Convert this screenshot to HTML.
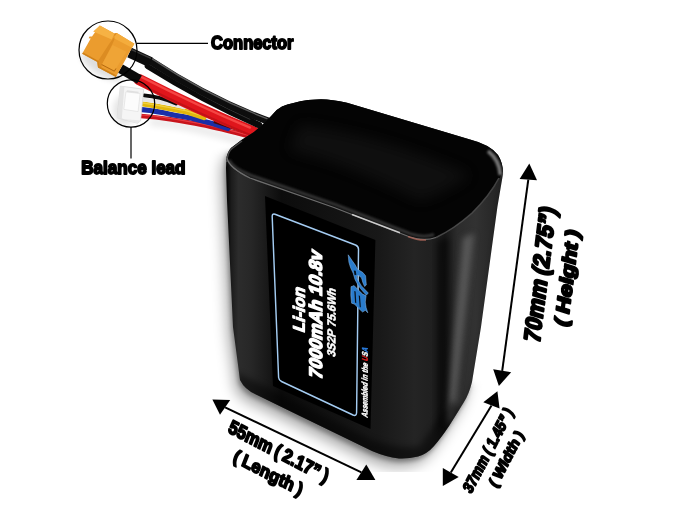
<!DOCTYPE html>
<html><head><meta charset="utf-8"><title>Battery</title>
<style>
html,body{margin:0;padding:0;background:#fff;}
body{width:686px;height:511px;overflow:hidden;}
svg{display:block;font-family:"Liberation Sans",sans-serif;font-weight:bold;opacity:0.999;}
</style></head><body>
<svg width="686" height="511" viewBox="0 0 686 511">
<defs>
<filter id="b6" x="-30%" y="-30%" width="160%" height="160%"><feGaussianBlur stdDeviation="7"/></filter>
<filter id="b3" x="-30%" y="-30%" width="160%" height="160%"><feGaussianBlur stdDeviation="3"/></filter>
<filter id="b2" x="-30%" y="-30%" width="160%" height="160%"><feGaussianBlur stdDeviation="2.2"/></filter>
<filter id="b1" x="-30%" y="-30%" width="160%" height="160%"><feGaussianBlur stdDeviation="1.2"/></filter>
<filter id="b05" x="-10%" y="-10%" width="120%" height="120%"><feGaussianBlur stdDeviation="0.5"/></filter>
<clipPath id="photo"><rect x="0" y="0" width="686" height="472"/></clipPath>
<mask id="shm" maskUnits="userSpaceOnUse" x="0" y="0" width="686" height="511"><path d="M-30,150 L262,150 L262,384 L720,384 L720,540 L-30,540 Z" fill="#fff" filter="url(#b3)"/></mask>
<linearGradient id="side" gradientUnits="userSpaceOnUse" x1="440" y1="300" x2="495" y2="308">
 <stop offset="0" stop-color="#0d0d0d"/><stop offset="0.25" stop-color="#262626"/><stop offset="0.5" stop-color="#3a3a3a"/><stop offset="0.8" stop-color="#222"/><stop offset="1" stop-color="#111"/>
</linearGradient>
<linearGradient id="front" gradientUnits="userSpaceOnUse" x1="226" y1="300" x2="503" y2="300">
 <stop offset="0" stop-color="#020202"/><stop offset="0.02" stop-color="#1c1c1c"/><stop offset="0.045" stop-color="#2c2c2c"/><stop offset="0.09" stop-color="#272727"/><stop offset="0.14" stop-color="#1b1b1b"/><stop offset="0.2" stop-color="#0c0c0c"/>
 <stop offset="0.55" stop-color="#181818"/><stop offset="0.68" stop-color="#242424"/><stop offset="0.76" stop-color="#1f1f1f"/><stop offset="0.79" stop-color="#171717"/><stop offset="0.835" stop-color="#2c2c2c"/><stop offset="0.9" stop-color="#323232"/><stop offset="1" stop-color="#222"/>
</linearGradient>
<linearGradient id="redw" x1="0" y1="0" x2="0" y2="1"><stop offset="0" stop-color="#ff3a3a"/><stop offset="1" stop-color="#c40d12"/></linearGradient>
</defs>
<rect width="686" height="511" fill="#fff"/>

<g clip-path="url(#photo)"><g mask="url(#shm)">
<path d="M226,168 L226.5,157 Q228,151 231,148 L241.5,140 L254,132 L266,121.5 L273,114 Q277,109 282,106.5 Q292,102.5 308,100 L321,99.3 Q332,99.5 347,102.7 L470,139.5 Q490,144.5 498,155 Q503,163 503,174 L497.4,207 L481,327 L472,382 Q469,394 464,402 L449,426 Q441,438 434,446 Q427,454 418,456.5 Q408,459 399,458.5 Q386,457 372,451 L300,416 L257,395 Q245,390 240,380 L233,327 L227,200 Z" fill="#000" opacity="0.34" filter="url(#b6)" transform="translate(-5,9)"/>
<path d="M226,168 L226.5,157 Q228,151 231,148 L241.5,140 L254,132 L266,121.5 L273,114 Q277,109 282,106.5 Q292,102.5 308,100 L321,99.3 Q332,99.5 347,102.7 L470,139.5 Q490,144.5 498,155 Q503,163 503,174 L497.4,207 L481,327 L472,382 Q469,394 464,402 L449,426 Q441,438 434,446 Q427,454 418,456.5 Q408,459 399,458.5 Q386,457 372,451 L300,416 L257,395 Q245,390 240,380 L233,327 L227,200 Z" fill="#000" opacity="0.30" filter="url(#b2)" transform="translate(-1.5,3.5)"/>
</g></g>
<ellipse cx="102" cy="66" rx="24" ry="9" transform="rotate(32 102 66)" fill="#000" opacity="0.13" filter="url(#b3)"/>
<ellipse cx="125" cy="110" rx="12" ry="15" fill="#000" opacity="0.10" filter="url(#b3)"/>
<path d="M150,122 C180,124 215,132 255,146" fill="none" stroke="#000" stroke-width="8" opacity="0.08" filter="url(#b3)"/>
<path d="M141,116 C155,117 165,118.5 170,119.3 S190,122.5 201.3,124.7 S235,132.5 252,137" fill="none" stroke="#c8141c" stroke-width="4.6" stroke-linecap="round" />
<path d="M141,115 C155,116 165,117.5 170,118.3 S190,121.5 201.3,123.6 S235,131.4 250,135.6" fill="none" stroke="#f2484e" stroke-width="1.2" stroke-linecap="round" opacity="0.75"/>
<path d="M142,109.7 C155,111 165,113 170,114.2 S185,116.8 193.5,118.7 S218,125 228,128.5" fill="none" stroke="#1a2fa8" stroke-width="5.2" stroke-linecap="round" />
<path d="M143,104 C155,105.5 163,107.2 170,108.7 S180,110.4 185.6,111.6 L204,117.5" fill="none" stroke="#e2b70c" stroke-width="5.2" stroke-linecap="round" />
<path d="M143,103 C155,104.5 163,106.2 170,107.7 S180,109.4 185.6,110.6 L200,115" fill="none" stroke="#f4d648" stroke-width="1.3" stroke-linecap="round" opacity="0.8"/>
<path d="M143,99.6 C155,100.8 163,102.5 170,104 L184,107.5" fill="none" stroke="#e6e6e6" stroke-width="3.8" stroke-linecap="round" />
<path d="M144,95.3 C150,95.8 156,97 160,98 S170,101 176,103.5" fill="none" stroke="#0c0c0c" stroke-width="3.8" stroke-linecap="round" />
<path d="M214,121 L256,135" stroke="#4a0608" stroke-width="4" fill="none"/>
<path d="M139,79.5 Q196.5,108.9 254,132" fill="none" stroke="#df161c" stroke-width="11" stroke-linecap="round" />
<path d="M140,76.2 Q196.5,105.4 250,127.6" fill="none" stroke="#ff5a55" stroke-width="2.4" stroke-linecap="round" opacity="0.7" filter="url(#b05)"/>
<path d="M139,83.6 Q196.5,113 252,135.6" fill="none" stroke="#b00c12" stroke-width="1.8" stroke-linecap="round" opacity="0.6" filter="url(#b05)"/>
<path d="M148,66 Q204,101 259,125" fill="none" stroke="#0a0a0a" stroke-width="6.6" stroke-linecap="round" />
<path d="M149,64 Q204,98.6 250,119.4" fill="none" stroke="#3c3c3c" stroke-width="1.0" stroke-linecap="round" opacity="0.8" filter="url(#b05)"/>
<path d="M150,60.5 Q209,99.5 269,121.5" fill="none" stroke="#0d0d0d" stroke-width="7.2" stroke-linecap="round" />
<path d="M151,58.2 Q209,96.8 267,118.6" fill="none" stroke="#6a6a6a" stroke-width="1.4" stroke-linecap="round" opacity="0.85" filter="url(#b05)"/>
<path d="M129.5,52.5 L150.5,62.2" stroke="#0b0b0b" stroke-width="10.4" fill="none"/>
<path d="M120.5,68.6 L139.5,79.6" stroke="#0b0b0b" stroke-width="9.6" fill="none"/>
<path d="M131,49.4 L151,58.4" stroke="#4a4a4a" stroke-width="1.4" fill="none" opacity="0.8" filter="url(#b05)"/>
<polygon points="99.8,25.5 114.4,33.6 116.8,33.1 134.4,43.7 131.6,48.5 115.9,77.0 98.0,67.6 97.4,61.9 82.2,53.7 90.7,38.4 88.7,38.2 89.5,36.4 92.0,36.4" fill="#eb9c2e"/>
<polygon points="99.8,25.5 114.4,33.6 111.7,39.4 93.2,31.5" fill="#f6b244"/>
<polygon points="116.8,33.1 134.4,43.7 132.0,47.7 113.4,38.0" fill="#f4ac3c"/>
<polygon points="114.4,33.6 116.8,33.1 113.4,38.0 108.9,44.3 97.4,61.9 98.0,67.6 101.1,67.9 102.3,63.7 112.0,44.9 114.4,39.4" fill="#dc8c22"/>
<polygon points="112.6,44.9 126.5,51.8 114.4,71.0 102.3,63.9" fill="#efa436"/>
<path d="M101.7,64.6 L114.4,71.2 L115.9,68.5" fill="none" stroke="#b66a10" stroke-width="1"/>
<polygon points="82.2,53.7 97.4,61.9 98.0,67.6 115.9,77.0 116.6,75.6 99.2,66.3 98.6,61.0 83.1,52.5" fill="#cf8018"/>
<polygon points="120.3,86.1 143.7,89.2 140.6,120.8 137.6,123.3 117.2,117.7" fill="#f5f5f5" stroke="#d4d4d4" stroke-width="0.7"/>
<polygon points="120.3,86.1 124.4,86.8 121.8,118.9 117.2,117.7" fill="#e4e4e4"/>
<polygon points="121.8,118.9 138.6,120.3 140.6,120.8 137.6,123.3 117.2,117.7" fill="#e9e9e9"/>
<polygon points="125.9,91.8 140.1,93.5 138.1,111.6 123.8,109.4" fill="#fcfcfc" stroke="#dcdcdc" stroke-width="0.6"/>
<polygon points="126.9,90.2 138.6,91.8 138.4,93.3 126.7,91.9" fill="#e0e0e0"/>
<circle cx="108" cy="50" r="29" fill="none" stroke="#000" stroke-width="1.2"/>
<circle cx="131" cy="103.5" r="23.7" fill="none" stroke="#000" stroke-width="1.2"/>
<line x1="137" y1="43.3" x2="208" y2="43.3" stroke="#000" stroke-width="1.2"/>
<line x1="131" y1="127" x2="131" y2="158.5" stroke="#000" stroke-width="1.2"/>
<text x="211.1" y="49.0" font-size="18.6" textLength="82.4" lengthAdjust="spacingAndGlyphs" fill="#000" stroke="#000" stroke-width="1.8" stroke-linejoin="round">Connector</text>
<text x="81.3" y="173.7" font-size="17.9" textLength="104.2" lengthAdjust="spacingAndGlyphs" fill="#000" stroke="#000" stroke-width="1.8" stroke-linejoin="round">Balance lead</text>
<clipPath id="bodyclip"><path d="M226,168 L226.5,157 Q228,151 231,148 L241.5,140 L254,132 L266,121.5 L273,114 Q277,109 282,106.5 Q292,102.5 308,100 L321,99.3 Q332,99.5 347,102.7 L470,139.5 Q490,144.5 498,155 Q503,163 503,174 L497.4,207 L481,327 L472,382 Q469,394 464,402 L449,426 Q441,438 434,446 Q427,454 418,456.5 Q408,459 399,458.5 Q386,457 372,451 L300,416 L257,395 Q245,390 240,380 L233,327 L227,200 Z"/></clipPath>
<path d="M226,168 L226.5,157 Q228,151 231,148 L241.5,140 L254,132 L266,121.5 L273,114 Q277,109 282,106.5 Q292,102.5 308,100 L321,99.3 Q332,99.5 347,102.7 L470,139.5 Q490,144.5 498,155 Q503,163 503,174 L497.4,207 L481,327 L472,382 Q469,394 464,402 L449,426 Q441,438 434,446 Q427,454 418,456.5 Q408,459 399,458.5 Q386,457 372,451 L300,416 L257,395 Q245,390 240,380 L233,327 L227,200 Z" fill="url(#front)"/>
<g clip-path="url(#bodyclip)">
<path d="M506,172 L500,207 L484,327 L474,382 L466,402 L450,428 L436,448 L420,460 L440,470 L520,400 L520,170 Z" fill="#000" opacity="0.5" filter="url(#b3)"/>
<path d="M463,238 L474,233 L454,420 L446,424 Z" fill="#6a6a6a" opacity="0.7" filter="url(#b3)"/>
<path d="M436,240 L449,238 L446,420 L436,436 Z" fill="#000" opacity="0.5" filter="url(#b3)"/>
<path d="M236,372 L300,404 L372,440 Q400,450 420,446 L452,400 L470,420 L430,470 L370,462 L240,400 Z" fill="#000" opacity="0.45" filter="url(#b3)"/>
</g>
<path d="M226.5,160 Q228,151 231,148 L241.5,140 L254,132 L266,121.5 L273,114 Q277,109 282,106.5 Q292,102.5 308,100 L321,99.3 Q332,99.5 347,102.7 L470,139.5 Q490,144.5 498,155 Q503,163 503,172 Q492,194 472,213 Q452,230 436,237 Q424,241.5 410,237 L334,207 L250,178 Q232,172 226.5,160 Z" fill="#040404"/>
<path d="M300,125 Q380,135 470,175 Q440,195 420,200 Q340,160 290,150 Z" fill="#2a2a2a" opacity="0.3" filter="url(#b6)"/>
<path d="M229,160 Q232,168 251,175.5 L335,204.5 L411,234 Q424,238 434,234.5" fill="none" stroke="#5c5c5c" stroke-width="3" opacity="0.55" filter="url(#b1)"/>
<path d="M488,151 Q499.5,160 500.5,175" fill="none" stroke="#9a9a9a" stroke-width="4" opacity="0.75" filter="url(#b1)"/>
<path d="M227,158 Q229,168 250,178 L334,207.5 L410,237 Q424,241.5 436,237.5" fill="none" stroke="#8a8a8a" stroke-width="1.3" opacity="0.75" filter="url(#b05)"/>
<path d="M352,214.5 L400,232.8" fill="none" stroke="#e6e6e6" stroke-width="1.5" opacity="0.8" filter="url(#b05)"/>
<path d="M408,236.5 Q418,240.5 426,240" fill="none" stroke="#b0685a" stroke-width="1.4" opacity="0.8" filter="url(#b05)"/>
<path d="M436,237.5 Q454,229 472,213 Q490,195 499,178" fill="none" stroke="#5a5a5a" stroke-width="1.6" opacity="0.7" filter="url(#b05)"/>
<path d="M226.8,162 Q227.5,152 232,148.5 L242,141" fill="none" stroke="#666" stroke-width="1.5" opacity="0.7" filter="url(#b05)"/>
<polygon points="265,196 375.4,240 370.5,429 273,386" fill="#000"/>
<path d="M275,214.2 L355.5,245 Q358.6,246.2 358.5,249.5 L356.6,412.5 Q356.5,416.5 353,415 L281.5,381.5 Q278.8,380.2 278.6,377.5 L272.2,216.8 Q272.1,213.2 275,214.2 Z" fill="none" stroke="#a4ccf2" stroke-width="1.45"/>
<text transform="matrix(0.0045,-1.0000,0.8230,0.2963,304.6,333.3)" x="0" y="0" font-size="20.0" textLength="44.5" lengthAdjust="spacingAndGlyphs" fill="#fff" stroke="#fff" stroke-width="1.4" stroke-linejoin="round">Li-ion</text>
<text transform="matrix(-0.0016,-1.0000,0.9053,0.3259,322.0,380.2)" x="0" y="0" font-size="20.0" textLength="127.7" lengthAdjust="spacingAndGlyphs" fill="#fff" stroke="#fff" stroke-width="1.7" stroke-linejoin="round">7000mAh 10.8v</text>
<text transform="matrix(0.0044,-1.0000,0.5830,0.2099,335.3,357.5)" x="0" y="0" font-size="20.0" textLength="68.3" lengthAdjust="spacingAndGlyphs" fill="#fff" stroke="#fff" stroke-width="0.9" stroke-linejoin="round">3S2P 75.6Wh</text>
<text transform="matrix(0.0057,-1.0000,0.4115,0.1481,367.4,418)" x="0" y="0" font-size="20.0" textLength="70.0" lengthAdjust="spacingAndGlyphs" fill="#fff" stroke="#fff" stroke-width="1.1" stroke-linejoin="round">Assembled in the <tspan fill="#e02020" stroke="#e02020">U</tspan><tspan fill="#f4f4f4" stroke="#f4f4f4">S</tspan><tspan fill="#2a7de0" stroke="#2a7de0">A</tspan></text>
<g fill="#2a7ccc" stroke="#8fbdea" stroke-width="0.5" stroke-linejoin="round">
<polygon points="348.2,254.8 351.9,260.3 355.3,265.1 357.4,269.2 362.6,272.3 365.6,275.8 366.3,285.0 364.6,286.5 362.8,282.4 361.5,277.8 358.7,275.5 356.5,276.0 357.4,279.3 361.5,285.9 368.3,293.0 366.4,295.2 362.6,291.1 358.5,285.9 355.0,279.5 353.2,273.3 350.5,267.5 348.9,262.3"/>
<polygon points="351.0,286.7 354.1,285.6 358.2,289.8 362.6,294.1 366.1,295.8 365.3,302.1 366.1,307.6 367.8,312.8 365.3,310.3 362.6,312.0 358.5,308.3 354.6,304.2 351.6,303.2 350.8,295.2"/>
</g>
<g fill="#06101c">
<polygon points="353.8,270.6 355.7,270.8 356.4,274.7 354.6,275.2"/>
<polygon points="354.3,290.9 355.6,291.5 356.3,303.2 355.0,302.6"/>
<polygon points="358.7,295.2 360.0,296.1 360.9,307.6 359.7,306.8"/>
</g>
<polygon points="529.3,163.6 519.6,178.9 537.0,180.3" fill="#000"/><polygon points="498.9,386.0 493.2,369.3 511.2,372.2" fill="#000"/><line x1="528.3" y1="179.6" x2="502.2" y2="370.8" stroke="#000" stroke-width="2"/>
<polygon points="497.4,391.2 483.3,402.3 499.6,408.5" fill="#000"/><polygon points="442.8,486.0 442.8,468.0 458.7,477.0" fill="#000"/><line x1="491.5" y1="405.4" x2="450.8" y2="472.5" stroke="#000" stroke-width="2"/>
<polygon points="212.4,399.4 230.2,400.0 220.0,414.8" fill="#000"/><polygon points="375.4,480.0 366.3,464.6 356.4,480.0" fill="#000"/><line x1="225.1" y1="407.4" x2="361.4" y2="472.3" stroke="#000" stroke-width="2"/>
<g transform="translate(539.5,274) rotate(-83) skewX(-10)"><text x="-67.9" y="8.4" font-size="23.05" textLength="135.8" lengthAdjust="spacingAndGlyphs" fill="#000" stroke="#000" stroke-width="2.2" stroke-linejoin="round" word-spacing="-1.5">70mm (2.75&#8221;)</text></g>
<g transform="translate(566.5,277.5) rotate(-83) skewX(-10)"><text x="-48.5" y="6.9" font-size="18.93" textLength="97.0" lengthAdjust="spacingAndGlyphs" fill="#000" stroke="#000" stroke-width="2.0" stroke-linejoin="round" word-spacing="-1">( Height )</text></g>
<g transform="translate(487.6,450) rotate(-62.5) skewX(-9)"><text x="-46.1" y="5.7" font-size="15.50" textLength="92.3" lengthAdjust="spacingAndGlyphs" fill="#000" stroke="#000" stroke-width="1.7" stroke-linejoin="round" word-spacing="-0.5">37mm ( 1.45&#8221; )</text></g>
<g transform="translate(506,458.5) rotate(-62.5) skewX(-9)"><text x="-30.2" y="5.2" font-size="14.27" textLength="60.4" lengthAdjust="spacingAndGlyphs" fill="#000" stroke="#000" stroke-width="1.6" stroke-linejoin="round" word-spacing="-0.5">( Width )</text></g>
<g transform="translate(279,451) rotate(27.5) skewX(6)"><text x="-55.6" y="6.9" font-size="18.93" textLength="111.2" lengthAdjust="spacingAndGlyphs" fill="#000" stroke="#000" stroke-width="1.8" stroke-linejoin="round" word-spacing="-1.2">55mm ( 2.17&#8221; )</text></g>
<g transform="translate(268.5,472.3) rotate(27.5) skewX(6)"><text x="-38.1" y="6.5" font-size="17.70" textLength="76.3" lengthAdjust="spacingAndGlyphs" fill="#000" stroke="#000" stroke-width="1.7" stroke-linejoin="round" word-spacing="-1">( Length )</text></g>
</svg></body></html>
